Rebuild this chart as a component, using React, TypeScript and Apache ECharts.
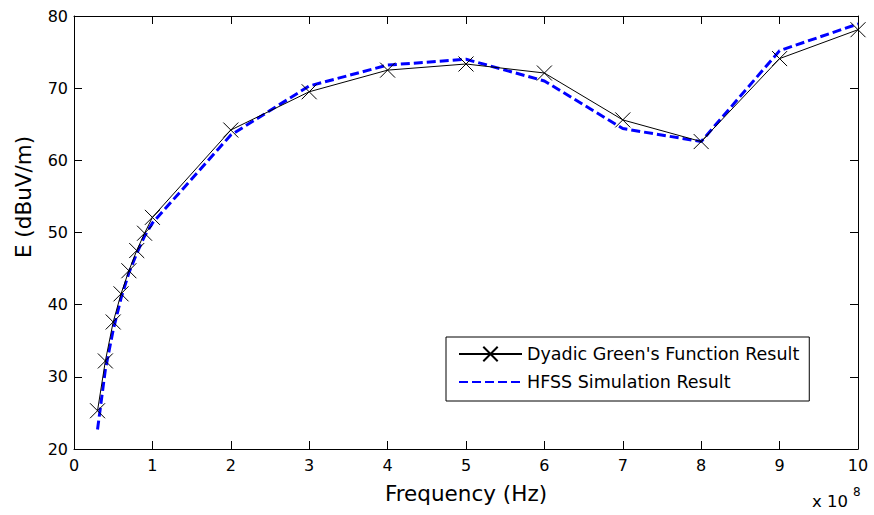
import React, { useEffect, useRef } from "react";
import * as echarts from "echarts";

// Frequency in units of 1e8 Hz
const frequencies = [0.3, 0.4, 0.5, 0.6, 0.7, 0.8, 0.9, 1, 2, 3, 4, 5, 6, 7, 8, 9, 10];
const dyadicValues = [25.3, 32.2, 37.6, 41.5, 44.7, 47.5, 49.9, 52.1, 64.2, 69.5, 72.5, 73.35, 72.1, 65.6, 62.6, 74.1, 78.1];
const hfssValues = [22.7, 31.0, 36.5, 40.9, 44.4, 47.1, 49.5, 51.3, 63.5, 70.3, 73.2, 74.0, 71.0, 64.4, 62.6, 75.2, 78.9];
const seriesNames = ["Dyadic Green's Function Result", "HFSS Simulation Result"];
const xAxisTitle = "Frequency (Hz)";
const yAxisTitle = "E (dBuV/m)";
const xMin = 0, xMax = 10, xStep = 1;
const yMin = 20, yMax = 80, yStep = 10;

const FONT = "DejaVu Sans";

export default function App() {
  const ref = useRef<HTMLDivElement>(null);
  useEffect(() => {
    if (!ref.current) return;
    const chart = echarts.init(ref.current, null, { renderer: "svg" });
    const axisCommon = {
      axisLine: { show: true, onZero: false, lineStyle: { color: "#000", width: 1 } },
      axisTick: { show: true, inside: true, length: 8, lineStyle: { color: "#000", width: 1 } },
      splitLine: { show: false },
    };
    chart.setOption({
      animation: false,
      backgroundColor: "#fff",
      grid: { left: 74, right: 16, top: 16, bottom: 66, containLabel: false },
      xAxis: [
        {
          type: "value", min: xMin, max: xMax, interval: xStep, position: "bottom",
          ...axisCommon,
          axisLabel: { show: true, margin: 8, color: "#000", fontFamily: FONT, fontSize: 16 },
          name: xAxisTitle, nameLocation: "middle", nameGap: 33,
          nameTextStyle: { color: "#000", fontFamily: FONT, fontSize: 21.5 },
        },
        {
          type: "value", min: xMin, max: xMax, interval: xStep, position: "top",
          ...axisCommon,
          axisLabel: { show: false },
        },
      ],
      yAxis: [
        {
          type: "value", min: yMin, max: yMax, interval: yStep, position: "left",
          ...axisCommon,
          axisLabel: { show: true, margin: 6, color: "#000", fontFamily: FONT, fontSize: 16 },
        },
        {
          type: "value", min: yMin, max: yMax, interval: yStep, position: "right",
          ...axisCommon,
          axisLabel: { show: false },
        },
      ],
      legend: {
        orient: "vertical",
        left: 446,
        top: 337,
        padding: [8, 10, 10, 12],
        itemGap: 10,
        itemWidth: 63,
        itemHeight: 18,
        borderColor: "#000",
        borderWidth: 1,
        borderRadius: 0,
        backgroundColor: "#fff",
        textStyle: { color: "#000", fontFamily: FONT, fontSize: 17.5 },
        data: [
          { name: seriesNames[0] },
          {
            name: seriesNames[1],
            itemStyle: { color: "rgba(0,0,0,0)", borderColor: "rgba(0,0,0,0)", borderWidth: 0, opacity: 0 },
          },
        ],
      },
      graphic: [
        {
          type: "text",
          x: 23,
          y: 197,
          rotation: Math.PI / 2,
          style: {
            text: yAxisTitle,
            fontFamily: FONT,
            fontSize: 21.5,
            fill: "#000",
            align: "center",
            verticalAlign: "middle",
          },
        },
        {
          type: "text",
          x: 812,
          y: 510,
          style: {
            text: "x 10",
            fontFamily: FONT,
            fontSize: 16.5,
            fill: "#000",
            align: "left",
            verticalAlign: "bottom",
          },
        },
        {
          type: "text",
          x: 853,
          y: 498,
          style: {
            text: "8",
            fontFamily: FONT,
            fontSize: 12,
            fill: "#000",
            align: "left",
            verticalAlign: "bottom",
          },
        },
      ],
      series: [
        {
          name: seriesNames[0],
          type: "line",
          xAxisIndex: 0,
          yAxisIndex: 0,
          data: frequencies.map((f, i) => [f, dyadicValues[i]]),
          symbol: "path://M0 0L10 10M10 0L0 10",
          symbolSize: 15,
          showSymbol: true,
          itemStyle: { color: "#000", borderColor: "#000", borderWidth: 1 },
          lineStyle: { color: "#000", width: 1, type: "solid" },
          z: 3,
        },
        {
          name: seriesNames[1],
          type: "line",
          xAxisIndex: 0,
          yAxisIndex: 0,
          data: frequencies.map((f, i) => [f, hfssValues[i]]),
          symbol: "none",
          showSymbol: false,
          itemStyle: { color: "#0000ff" },
          lineStyle: { color: "#0000ff", width: 3, type: [9, 4] },
          z: 2,
        },
      ],
    });
    return () => chart.dispose();
  }, []);
  return (
    <div
      ref={ref}
      style={{ position: "absolute", left: 0, top: 0, width: 874, height: 515 }}
    />
  );
}
